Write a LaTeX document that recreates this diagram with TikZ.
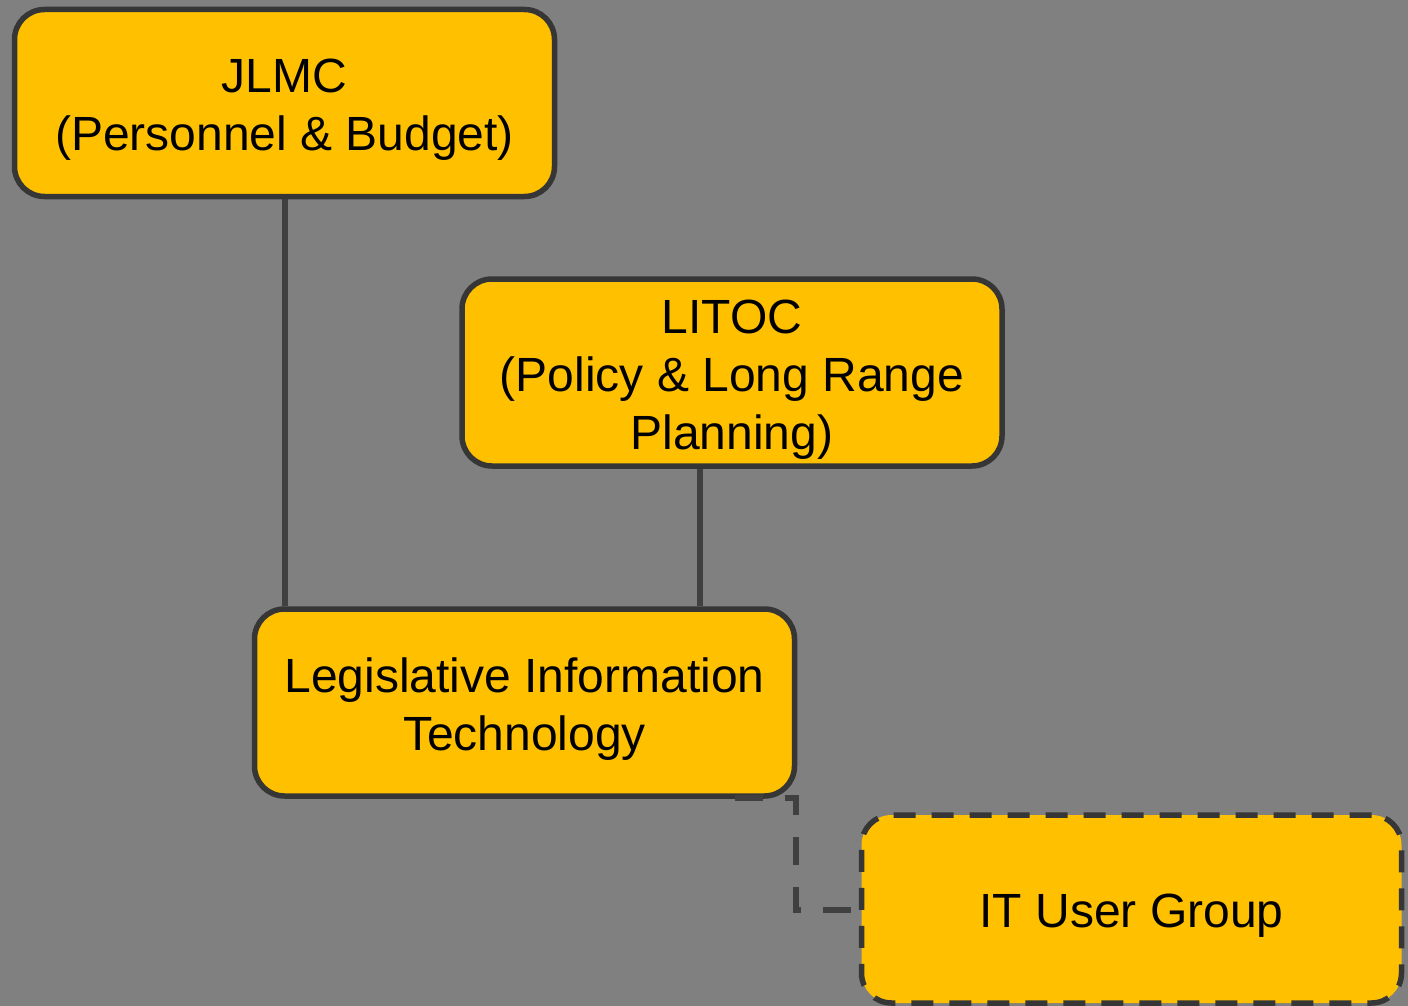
\documentclass[tikz,border=0pt]{standalone}
\usepackage{fontspec}
\setmainfont{Liberation Sans}
\definecolor{bg}{HTML}{808080}
\definecolor{boxfill}{HTML}{FFC000}
\definecolor{edge}{HTML}{363636}
\definecolor{conn}{HTML}{404040}
\tikzset{
  orgbox/.style={draw=edge, fill=boxfill, line width=5.5pt, rounded corners=30pt,
    minimum width=540pt, minimum height=187pt, inner sep=0pt},
  lbl/.style={align=center, inner sep=0pt, yshift=-7pt,
    font=\fontsize{48}{58}\selectfont, text=black},
  conline/.style={draw=conn, line width=5.5pt},
  dashline/.style={draw=conn, line width=5.5pt, dash pattern=on 28pt off 22pt}
}
\begin{document}
\begin{tikzpicture}[x=1pt,y=-1pt]
\useasboundingbox (0,0) rectangle (1408,1006);
\fill[bg] (0,0) rectangle (1408,1006);
% connectors (drawn first, behind boxes)
\coordinate (c1) at (285,199);
\coordinate (c2) at (285,606);
\coordinate (c3) at (700,469);
\coordinate (c4) at (700,606);
\draw[conline] (c1) -- (c2);
\draw[conline] (c3) -- (c4);
% boxes
\node[orgbox, label={[lbl]center:{JLMC\\(Personnel \& Budget)}}] (jlmc) at (284.5,103) {};
\node[orgbox, label={[lbl]center:{LITOC\\(Policy \& Long Range\\Planning)}}] (litoc) at (732,372.5) {};
\node[orgbox, label={[lbl]center:{Legislative Information\\Technology}}] (lit) at (524.5,702.5) {};
\node[orgbox, dash pattern=on 22pt off 16pt, minimum height=188pt,
  label={[lbl]center:{IT User Group}}] (itug) at (1131.5,909) {};
% dashed elbow connector
\coordinate (d1) at (735,798);
\coordinate (d2) at (796,798);
\coordinate (d3) at (796,910);
\draw[dashline] (d1) -- (d2) -- (d3) -- (itug.west |- d3);
\end{tikzpicture}
\end{document}
